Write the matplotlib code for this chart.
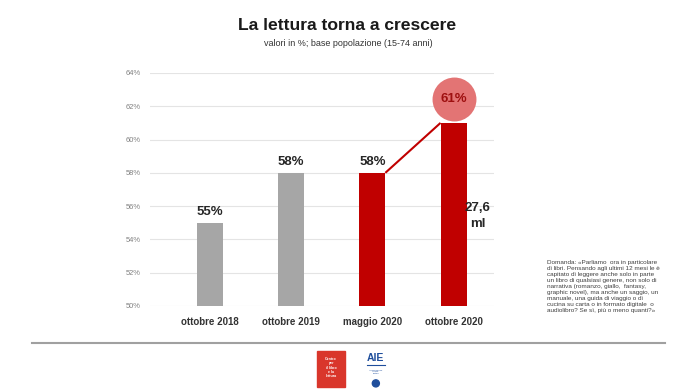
import matplotlib.pyplot as plt
from matplotlib.patches import Rectangle, Ellipse

plt.rcParams['font.family'] = ['Liberation Sans', 'DejaVu Sans']

# data
categories = ['ottobre 2018', 'ottobre 2019', 'maggio 2020', 'ottobre 2020']
values = [55, 58, 58, 61]
bar_colors = ['#a6a6a6', '#a6a6a6', '#c00000', '#c00000']
y_ticks = [50, 52, 54, 56, 58, 60, 62, 64]
note_text = ("Domanda: «Parliamo  ora in particolare\n"
             "di libri. Pensando agli ultimi 12 mesi le è\n"
             "capitato di leggere anche solo in parte\n"
             "un libro di qualsiasi genere, non solo di\n"
             "narrativa (romanzo, giallo,  fantasy,\n"
             "graphic novel), ma anche un saggio, un\n"
             "manuale, una guida di viaggio o di\n"
             "cucina su carta o in formato digitale  o\n"
             "audiolibro? Se sì, più o meno quanti?»")

fig = plt.figure(figsize=(6.96, 3.92), dpi=100)
ax = fig.add_axes([0.2155, 0.2194, 0.4943, 0.5944])

x = list(range(len(categories)))
w = 0.32
ax.bar(x, values, width=w, color=bar_colors, zorder=3)

ax.set_xlim(-0.739, 3.499)
ax.set_ylim(50, 64)
ax.set_yticks(y_ticks)
ax.set_yticklabels([f'{t}%' for t in y_ticks], fontsize=5.4, color='#808080')
ax.set_xticks(x)
ax.set_xticklabels(categories, fontsize=7, fontweight='bold', color='#333333')
ax.tick_params(length=0)
ax.tick_params(axis='x', pad=8)
ax.tick_params(axis='y', pad=7)
ax.grid(axis='y', color='#e4e4e4', linewidth=0.8, zorder=0)
for s in ax.spines.values():
    s.set_visible(False)

# value labels (last one sits in the circle)
for i in range(3):
    ax.annotate(f'{values[i]}%', (x[i], values[i]), xytext=(0, 3.5), textcoords='offset points',
                ha='center', va='bottom', fontsize=9.5, fontweight='bold', color='#262626')

# connecting line between the two red bars
ax.plot([x[2] + w / 2, x[3] - w / 2], [values[2], values[3]], color='#c00000', lw=1.5, zorder=4,
        solid_capstyle='butt')

# circle highlight
ax.scatter([x[3]], [values[3] + 1.45], s=1000, color='#e37474', zorder=5, clip_on=False, linewidths=0)
ax.text(x[3], values[3] + 1.45, f'{values[3]}%', ha='center', va='center', fontsize=9.5,
        fontweight='bold', color='#9e1010', zorder=6)

ax.text(x[3] + 0.3, 55.4, '27,6\nml', ha='center', va='center', fontsize=9.5,
        fontweight='bold', color='#262626', linespacing=1.5)

# titles
fig.text(0.4985, 0.935, 'La lettura torna a crescere', ha='center', va='center',
         fontsize=12.6, fontweight='bold', color='#1a1a1a')
fig.text(0.5, 0.89, 'valori in %; base popolazione (15-74 anni)', ha='center', va='center',
         fontsize=6.5, color='#333333')

# note
fig.text(0.786, 0.337, note_text, ha='left', va='top', fontsize=4.6, color='#404040',
         linespacing=1.25)

# footer line
fig.add_artist(plt.Line2D([0.046, 0.956], [0.125, 0.125], color='#a0a0a0', lw=1.5))

# logos
fig.add_artist(Rectangle((0.4555, 0.0128), 0.0402, 0.0918, color='#d9362b'))
fig.text(0.4756, 0.062, 'Centro\nper\nil libro\ne la\nlettura', ha='center', va='center',
         fontsize=2.6, fontweight='bold', color='white', linespacing=1.1)
fig.text(0.540, 0.088, 'AIE', ha='center', va='center', fontsize=7.5, fontweight='bold',
         color='#1f4e9c')
fig.add_artist(plt.Line2D([0.527, 0.553], [0.068, 0.068], color='#1f4e9c', lw=0.8))
fig.text(0.540, 0.052, 'Associazione\nItaliana\nEditori', ha='center', va='center',
         fontsize=1.6, color='#1f4e9c', linespacing=1.1)
fig.add_artist(Ellipse((0.540, 0.022), 0.018 * 392 / 696, 0.018, transform=fig.transFigure,
                       color='#1f4e9c'))

fig.savefig('out.png', dpi=100)
